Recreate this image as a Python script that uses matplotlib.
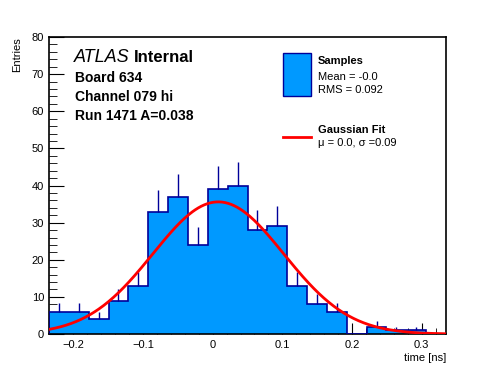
import numpy as np
import matplotlib.pyplot as plt
from matplotlib.ticker import MultipleLocator

plt.rcParams['font.family'] = ['Liberation Sans', 'DejaVu Sans']

# histogram of time residuals, 20 bins
edges = np.linspace(-0.235, 0.335, 21)
counts = [6, 6, 4, 9, 13, 33, 37, 24, 39, 40, 28, 29, 13, 8, 6, 0, 2, 1, 1, 0]

# gaussian fit drawn on top
fit_amp = 35.6
fit_mu = 0.008
fit_sigma = 0.094

fill_col = '#0099ff'
line_col = '#000099'

fig = plt.figure(figsize=(4.96, 3.72), dpi=100)
ax = fig.add_axes([0.0988, 0.102, 0.8005, 0.7985])

counts = np.array(counts)
centers = 0.5 * (edges[:-1] + edges[1:])
ax.stairs(counts, edges, fill=True, color=fill_col, zorder=2)
ax.stairs(counts, edges, color=line_col, lw=1.2, zorder=3)
nz = counts > 0
ax.vlines(centers[nz], counts[nz], counts[nz] + np.sqrt(counts[nz]),
          color=line_col, lw=1.0, zorder=3)

xs = np.linspace(edges[0], edges[-1], 400)
ax.plot(xs, fit_amp * np.exp(-0.5 * ((xs - fit_mu) / fit_sigma) ** 2),
        color='red', lw=2, zorder=4)

ax.set_xlim(edges[0], edges[-1])
ax.set_ylim(0, 80)
ax.xaxis.set_major_locator(MultipleLocator(0.1))
ax.xaxis.set_minor_locator(MultipleLocator(0.02))
ax.yaxis.set_major_locator(MultipleLocator(10))
ax.yaxis.set_minor_locator(MultipleLocator(2))
ax.xaxis.set_major_formatter(lambda v, p: '0' if abs(v) < 1e-9 else f'{v:.1f}'.replace('-', '\u2212'))
ax.tick_params(which='both', direction='in', labelsize=8)
ax.tick_params(axis='x', which='major', length=8)
ax.tick_params(axis='x', which='minor', length=4)
ax.tick_params(axis='y', which='major', length=11)
ax.tick_params(axis='y', which='minor', length=6)
ax.tick_params(axis='x', pad=4)
for s in ax.spines.values():
    s.set_linewidth(1.2)

ax.set_ylabel('Entries', fontsize=8)
ax.yaxis.set_label_coords(-0.068, 1.0)
ax.yaxis.label.set_ha('right')
ax.set_xlabel('time [ns]', fontsize=8)
ax.xaxis.set_label_coords(1.0, -0.065)
ax.xaxis.label.set_ha('right')

# labels
ax.text(0.062, 0.915, 'ATLAS', transform=ax.transAxes, fontsize=13, style='italic')
ax.text(0.214, 0.915, 'Internal', transform=ax.transAxes, fontsize=12, weight='bold')
ax.text(0.066, 0.85, 'Board 634', transform=ax.transAxes, fontsize=10, weight='bold')
ax.text(0.066, 0.785, 'Channel 079 hi', transform=ax.transAxes, fontsize=10, weight='bold')
ax.text(0.066, 0.72, 'Run 1471 A=0.038', transform=ax.transAxes, fontsize=10, weight='bold')

# legend by hand
ax.add_patch(plt.Rectangle((0.59, 0.80), 0.07, 0.145, transform=ax.transAxes,
                           facecolor=fill_col, edgecolor=line_col, lw=1))
ax.text(0.677, 0.918, 'Samples', transform=ax.transAxes, fontsize=8, weight='bold', va='center')
ax.text(0.677, 0.866, 'Mean = -0.0', transform=ax.transAxes, fontsize=8, va='center')
ax.text(0.677, 0.82, 'RMS = 0.092', transform=ax.transAxes, fontsize=8, va='center')
ax.plot([0.59, 0.66], [0.664, 0.664], transform=ax.transAxes, color='red', lw=2)
ax.text(0.677, 0.688, 'Gaussian Fit', transform=ax.transAxes, fontsize=8, weight='bold', va='center')
ax.text(0.677, 0.643, '\u03bc = 0.0, \u03c3 =0.09', transform=ax.transAxes, fontsize=8, va='center')

fig.savefig('out.png', dpi=100)
